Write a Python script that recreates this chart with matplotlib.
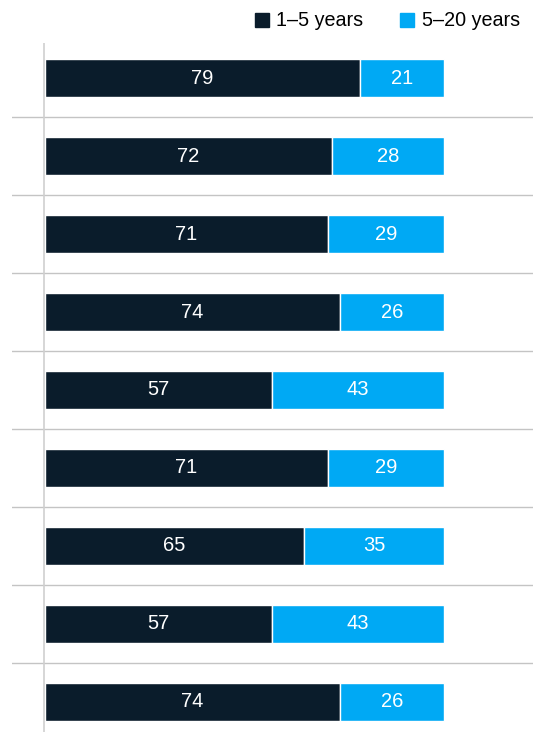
import matplotlib.pyplot as plt
from matplotlib.patches import Rectangle

plt.rcParams['font.family'] = ['Liberation Sans', 'DejaVu Sans']

short = [79, 72, 71, 74, 57, 71, 65, 57, 74]
long_ = [21, 28, 29, 26, 43, 29, 35, 43, 26]
series = ['1–5 years', '5–20 years']
dark = '#0a1c2b'
blue = '#00a9f4'

fig = plt.figure(figsize=(5.33, 7.32), dpi=100)
ax = fig.add_axes([12/533, 0, 521/533, 689/732])

rows = range(len(short))
ax.barh(rows, short, height=0.49, color=dark, edgecolor='white', linewidth=1)
ax.barh(rows, long_, left=short, height=0.49, color=blue, edgecolor='white', linewidth=1)

for i in rows:
    ax.text(short[i] / 2, i, str(short[i]), ha='center', va='center',
            color='white', fontsize=14.5)
    ax.text(short[i] + long_[i] / 2, i, str(long_[i]), ha='center', va='center',
            color='white', fontsize=14.5)
    if i < len(short) - 1:
        ax.axhline(i + 0.5, color='#c4c4c4', linewidth=1)

ax.axvline(-0.3, color='#d0d0d0', linewidth=1.2)
ax.set_xlim(-8.3, 122.4)
ax.set_ylim(8.385, -0.449)
ax.axis('off')

# legend
fig.patches.append(Rectangle((255/533, 1 - 27/732), 14/533, 14/732,
                             transform=fig.transFigure, color=dark))
fig.text(276/533, 1 - 20/732, series[0], va='center', fontsize=14.2)
fig.patches.append(Rectangle((400/533, 1 - 27/732), 14/533, 14/732,
                             transform=fig.transFigure, color=blue))
fig.text(422/533, 1 - 20/732, series[1], va='center', fontsize=14.2)

fig.savefig('out.png', dpi=100)
